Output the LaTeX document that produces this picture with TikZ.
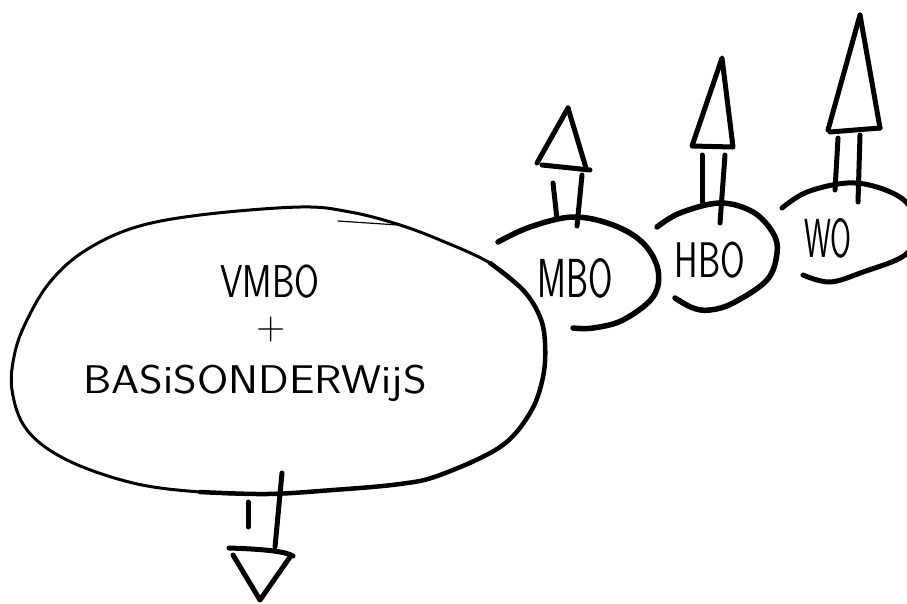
\documentclass[tikz,border=0pt]{standalone}
\begin{document}
\begin{tikzpicture}[x=1pt, y=-1pt, line cap=round, line join=round,
  thin pen/.style={line width=3pt, black},
  thick pen/.style={line width=5pt, black},
  lbl/.style={inner sep=0pt, anchor=base, font=\sffamily}]
\useasboundingbox (0,0) rectangle (907,603);
\clip (0,0) rectangle (907,603);

% ---------- big bubble: VMBO + basisonderwijs ----------
\draw[thin pen] plot[smooth cycle, tension=0.6] coordinates {
  (300,207) (200,215) (133,228) (83,252) (50,282) (28,318) (15,352)
  (12,390) (27,430) (67,460) (133,483) (200,492) (267,494) (333,490)
  (400,484) (440,475) (500,447) (530,413) (543,377) (545,343) (540,317)
  (523,290) (490,263) (440,240) (397,224) (350,212)};
% heavier stroke along the right and bottom side
\draw[line width=4.5pt] plot[smooth, tension=0.6] coordinates {
  (490,263) (523,290) (540,317) (545,343) (543,377) (530,413) (500,447)
  (440,475) (400,484) (333,490) (267,494) (200,492)};
\draw[line width=1.2pt] (338,221) -- (398,225);

\node[lbl] (vmbo) at (270,297) {\scalebox{0.78}[1]{\fontsize{46}{46}\selectfont VMBO}};
\node[inner sep=0pt, font=\sffamily] (plus) at (271,330) {\fontsize{40}{40}\selectfont +};
\node[lbl] (basis) at (255,393) {\scalebox{1.13}[1]{\fontsize{40}{40}\selectfont BASiSONDERWijS}};

% ---------- downward arrow ----------
\coordinate (downTop) at (282,473);
\coordinate (downFoot) at (275,547);
\coordinate (downTip) at (260,600);
\draw[thick pen] (downTop) -- (downFoot);
\draw[thick pen] (248,502) -- (248,527);
\draw[thick pen] (229,548) .. controls (260,549) and (285,551) .. (293,556);
\draw[thick pen] (233,555) -- (downTip) -- (290,557);

% ---------- MBO ----------
\draw[line width=5.5pt] plot[smooth, tension=0.6] coordinates {
  (498,242) (530,227) (573,217) (613,225) (643,243) (658,270) (653,297)
  (623,320) (593,328) (573,328)};
\node[lbl] (mbo) at (575,297) {\scalebox{0.64}[1]{\fontsize{55}{55}\selectfont MBO}};
\coordinate (mboTip) at (568,108);
\draw[thick pen] (mboTip) -- (537,163);
\draw[thick pen] (542,165) -- (590,170);
\draw[thick pen] (mboTip) -- (586,168);
\draw[thick pen] (553,183) -- (557,219);
\draw[thick pen] (582,175) -- (577,226);

% ---------- HBO ----------
\draw[line width=5.5pt] plot[smooth, tension=0.6] coordinates {
  (657,227) (680,213) (720,203) (753,212) (773,233) (777,253) (767,280)
  (733,303) (710,310) (693,308) (675,298)};
\node[lbl] (hbo) at (710,277) {\scalebox{0.71}[1]{\fontsize{50}{50}\selectfont HBO}};
\coordinate (hboTip) at (722,58);
\draw[thick pen] (hboTip) -- (692,146) -- (733,147) -- cycle;
\draw[thick pen] (702,155) -- (702,202);
\draw[thick pen] (725,155) -- (720,223);

% ---------- WO ----------
\draw[line width=5pt] plot[smooth, tension=0.6] coordinates {
  (782,208) (807,192) (847,183) (880,188) (907,203) (918,230) (905,255)
  (863,272) (830,282) (803,275)};
\node[lbl] (wo) at (828,257) {\scalebox{0.55}[1]{\fontsize{55}{55}\selectfont WO}};
\coordinate (woTip) at (860,15);
\draw[thick pen] (woTip) -- (828,130);
\draw[thick pen] (830,132) -- (880,128);
\draw[thick pen] (woTip) -- (880,128);
\draw[thick pen] (838,138) -- (835,190);
\draw[thick pen] (860,135) -- (858,202);
\end{tikzpicture}
\end{document}
